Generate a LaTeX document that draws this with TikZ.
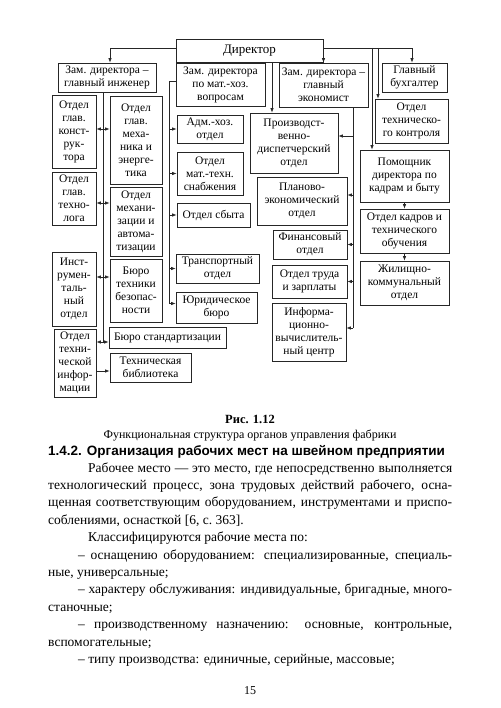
\documentclass[tikz,border=0pt]{standalone}
\usepackage{fontspec}
\setmainfont{Liberation Serif}
\newfontfamily\headfont{Liberation Sans}
\usetikzlibrary{arrows.meta}
\newcommand{\jline}[2]{\makebox[#1][s]{#2}}

\begin{document}
\begin{tikzpicture}[
      x=1pt, y=-1pt,
      unit/.style={draw=black!85, line width=0.8pt, align=center,
                   inner sep=0pt, font=\fontsize{11.5}{13}\selectfont},
      wire/.style={draw=black!85, line width=0.7pt},
      link/.style={wire, -{Latex[length=4.5pt,width=3.5pt]}},
      both/.style={wire, {Latex[length=4.5pt,width=3.5pt]}-{Latex[length=4.5pt,width=3.5pt]}},
      txt/.style={anchor=base west, inner sep=0pt,
                  font=\fontsize{13.5}{17}\selectfont}
    ]
    \path[fill=white] (0,0) rectangle (500,708);
    \useasboundingbox (0,0) rectangle (500,708);

    % top level
    \node[unit, minimum width=147pt, minimum height=23pt,
          font=\fontsize{13}{15}\selectfont] (dir) at (249.5,50.5) {Директор};
    \node[unit, minimum width=98pt, minimum height=29pt] (zinzh) at (107,77.5)
      {Зам. директора –\\главный инженер};
    \node[unit, minimum width=89pt, minimum height=43pt] (zmat) at (220.5,84.5)
      {Зам. директора\\по мат.-хоз.\\вопросам};
    \node[unit, minimum width=89pt, minimum height=44pt] (zecon) at (323.5,85)
      {Зам. директора –\\главный\\экономист};
    \node[unit, minimum width=65pt, minimum height=29pt] (buh) at (414.5,77.5)
      {Главный\\бухгалтер};

    % right column
    \node[unit, minimum width=73pt, minimum height=44pt] (otk) at (411.5,121)
      {Отдел\\техническо-\\го контроля};
    \node[unit, minimum width=89pt, minimum height=52pt] (pom) at (404.5,176)
      {Помощник\\директора по\\кадрам и быту};
    \node[unit, minimum width=89pt, minimum height=44pt] (kadr) at (404.5,231)
      {Отдел кадров и\\технического\\обучения};
    \node[unit, minimum width=89pt, minimum height=44pt] (zhil) at (404.5,283)
      {Жилищно-\\коммунальный\\отдел};

    % economist column
    \node[unit, minimum width=88pt, minimum height=60pt] (prod) at (294,143)
      {Производст-\\венно-\\диспетчерский\\отдел};
    \node[unit, minimum width=90pt, minimum height=48pt] (plan) at (302,201)
      {Планово-\\экономический\\отдел};
    \node[unit, minimum width=74pt, minimum height=29pt] (fin) at (310,244.5)
      {Финансовый\\отдел};
    \node[unit, minimum width=75pt, minimum height=33pt] (trud) at (309.5,281.5)
      {Отдел труда\\и зарплаты};
    \node[unit, minimum width=74pt, minimum height=58pt] (ivc) at (309,332)
      {Информа-\\ционно-\\вычислитель-\\ный центр};

    % mat.-hoz. column
    \node[unit, minimum width=66pt, minimum height=28pt] (adm) at (210,129)
      {Адм.-хоз.\\отдел};
    \node[unit, minimum width=66pt, minimum height=43pt] (mts) at (210,173.5)
      {Отдел\\мат.-техн.\\снабжения};
    \node[unit, minimum width=73pt, minimum height=24pt] (sbyt) at (213.5,215)
      {Отдел сбыта};
    \node[unit, minimum width=83pt, minimum height=29pt] (trans) at (217.5,268.5)
      {Транспортный\\отдел};
    \node[unit, minimum width=81pt, minimum height=31pt] (yur) at (216.5,307.5)
      {Юридическое\\бюро};

    % engineer columns
    \node[unit, minimum width=44pt, minimum height=73pt] (konst) at (74,131.5)
      {Отдел\\глав.\\конст-\\рук-\\тора};
    \node[unit, minimum width=44pt, minimum height=53pt] (tehn) at (74,198.5)
      {Отдел\\глав.\\техно-\\лога};
    \node[unit, minimum width=44pt, minimum height=74pt] (instr) at (74,289)
      {Инст-\\румен-\\таль-\\ный\\отдел};
    \node[unit, minimum width=42pt, minimum height=68pt] (tinf) at (75,363)
      {Отдел\\техни-\\ческой\\инфор-\\мации};
    \node[unit, minimum width=52pt, minimum height=88pt] (meh) at (136,140)
      {Отдел\\глав.\\меха-\\ника и\\энерге-\\тика};
    \node[unit, minimum width=52pt, minimum height=69pt] (mehan) at (136,221.5)
      {Отдел\\механи-\\зации и\\автома-\\тизации};
    \node[unit, minimum width=52pt, minimum height=63pt] (btb) at (136,290.5)
      {Бюро\\техники\\безопас-\\ности};
    \node[unit, minimum width=117pt, minimum height=21pt] (bst) at (167.5,337.5)
      {Бюро стандартизации};
    \node[unit, minimum width=81pt, minimum height=29pt] (bibl) at (150.5,367.5)
      {Техническая\\библиотека};

    % trunk positions
    \coordinate (top) at (0,48);
    \coordinate (xz) at (110,0);
    \coordinate (xe) at (103,0);
    \coordinate (xm) at (169,0);
    \coordinate (xp) at (272,0);
    \coordinate (xf) at (353,0);
    \coordinate (xh) at (372,0);
    \coordinate (xo) at (378,0);
    \coordinate (xb) at (412,0);

    % from the director
    \draw[link] (dir.west |- top) -| (zinzh.north -| xz);
    \draw[link] (dir.east |- top) -| (buh.north -| xb);
    \draw[link] (zecon.north |- top) -- (zecon.north);
    \draw[link] (xo |- top) -- (otk.north -| xo);
    \draw[link] (xh |- top) -- (pom.north -| xh);
    \draw[link] (dir.south -| xp) -- (prod.north -| xp);
    \draw[link] (pom) -- (kadr);
    \draw[link] (kadr) -- (zhil);

    % economist
    \draw[wire] (zecon.south -| xf) -- ([yshift=4pt]ivc.east -| xf);
    \draw[link] ([yshift=7pt]prod.east -| xf) -- ([yshift=7pt]prod.east);
    \draw[link] ([yshift=6pt]plan.east -| xf) -- ([yshift=6pt]plan.east);
    \draw[link] (fin.east -| xf) -- (fin.east);
    \draw[link] (trud.east -| xf) -- (trud.east);
    \draw[link] ([yshift=4pt]ivc.east -| xf) -- ([yshift=4pt]ivc.east);

    % mat.-hoz.
    \draw[wire] ([yshift=3.5pt]zmat.west) -| ([yshift=4pt]yur.west -| xm);
    \draw[link] (adm.west -| xm) -- (adm.west);
    \draw[link] (mts.west -| xm) -- (mts.west);
    \draw[link] (sbyt.west -| xm) -- (sbyt.west);
    \draw[link] (trans.west -| xm) -- (trans.west);
    \draw[link] ([yshift=4pt]yur.west -| xm) -- ([yshift=4pt]yur.west);

    % engineer
    \draw[wire] (zinzh.south -| xe) -- ([yshift=-4.5pt]bst.west -| xe);
    \draw[both] ([yshift=2.5pt]konst.east) -- ([yshift=2.5pt]konst.east -| meh.west);
    \draw[both] ([yshift=-4.5pt]tehn.east) -- ([yshift=-4.5pt]tehn.east -| mehan.west);
    \draw[both] ([yshift=12pt]instr.east) -- ([yshift=12pt]instr.east -| btb.west);
    \draw[both] ([yshift=-4.5pt]bst.west -| tinf.east) -- ([yshift=-4.5pt]bst.west);
    \draw[link] ([yshift=-8pt]tinf.east) -- ([yshift=-8pt]tinf.east -| bibl.west);

    % caption and text
    \node[font=\bfseries\fontsize{12.5}{14}\selectfont] (fig) at (250,419) {Рис. 1.12};
    \node[font=\fontsize{12}{14}\selectfont] (cap) at (250,435)
      {Функциональная структура органов управления фабрики};
    \node[anchor=west, inner sep=0pt,
          font=\headfont\bfseries\fontsize{13.5}{15}\selectfont] (head) at (48,452)
      {1.4.2. Организация рабочих мест на швейном предприятии};
    \node[txt] (l1) at (88,472)
      {\jline{364pt}{Рабочее место — это место, где непосредственно выполняется}};
    \node[txt] (l2) at (48,489.4)
      {\jline{404pt}{технологический процесс, зона трудовых действий рабочего, осна-}};
    \node[txt] (l3) at (48,506.8)
      {\jline{404pt}{щенная соответствующим оборудованием, инструментами и приспо-}};
    \node[txt] (l4) at (48,524.2) {соблениями, оснасткой [6, с.~363].};
    \node[txt] (l5) at (88,541.6) {Классифицируются рабочие места по:};
    \node[txt] (l6) at (78,559)
      {\jline{374pt}{– оснащению оборудованием: специализированные, специаль-}};
    \node[txt] (l7) at (48,576.4) {ные, универсальные;};
    \node[txt] (l8) at (78,593.8)
      {\jline{374pt}{– характеру обслуживания: индивидуальные, бригадные, много-}};
    \node[txt] (l9) at (48,611.2) {станочные;};
    \node[txt] (l10) at (78,628.6)
      {\jline{374pt}{– производственному назначению: основные, контрольные,}};
    \node[txt] (l11) at (48,646) {вспомогательные;};
    \node[txt] (l12) at (78,663.4) {– типу производства: единичные, серийные, массовые;};
    \node[font=\fontsize{12}{14}\selectfont] (pg) at (250,691) {15};
  \end{tikzpicture}
\end{document}
